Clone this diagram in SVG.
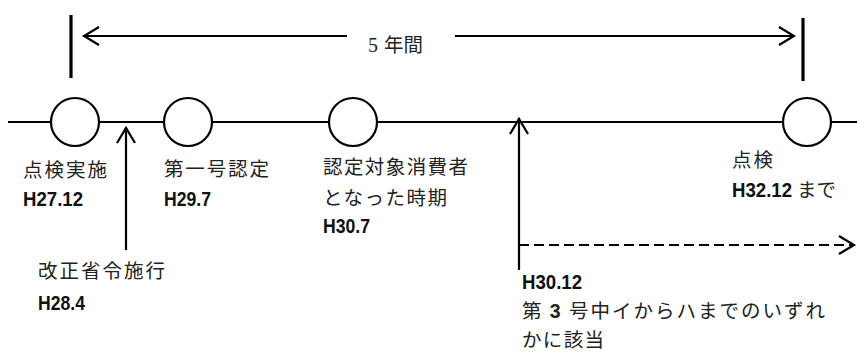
<svg xmlns="http://www.w3.org/2000/svg" width="857" height="354" viewBox="0 0 857 354">
<defs>
<marker id="ah" markerUnits="userSpaceOnUse" markerWidth="24" markerHeight="24" viewBox="-20 -12 24 24" refX="0" refY="0" orient="auto">
<path d="M-15,-9 L0,0 L-15,9" fill="none" stroke="#000" stroke-width="2.2"/>
</marker>
<style>
.ln{stroke:#000;stroke-width:2.2;fill:none}
.tick{stroke:#000;stroke-width:3.2;fill:none}
.node{fill:#fff;stroke:#000;stroke-width:2.2}
.jp{font-family:"Noto Sans CJK JP","Liberation Sans",sans-serif;font-size:19.5px;fill:#222}
.en{font-family:"Liberation Sans",Arial,sans-serif;font-size:19.5px;font-weight:bold;fill:#111}
</style>
</defs>
<rect width="857" height="354" fill="#fff"/>
<g id="connectors">
<line class="ln" x1="8" y1="122" x2="857" y2="122"/>
<line class="tick" x1="71" y1="15" x2="71" y2="78"/>
<line class="tick" x1="803" y1="18" x2="803" y2="81"/>
<line class="ln" x1="347" y1="36" x2="84" y2="36" marker-end="url(#ah)"/>
<line class="ln" x1="455" y1="36" x2="794" y2="36" marker-end="url(#ah)"/>
<line class="ln" x1="126" y1="250" x2="126" y2="128" marker-end="url(#ah)"/>
<line class="ln" x1="519" y1="270" x2="519" y2="119" marker-end="url(#ah)"/>
<line class="ln" x1="519" y1="245" x2="854" y2="245" stroke-width="3.2" stroke-dasharray="10 5" marker-end="url(#ah)"/>
</g>
<g id="label-5nen">
<text x="368" y="52" font-family="'Liberation Serif',serif" font-size="20" fill="#222">5</text>
<text x="384" y="52" class="jp" font-size="19">年間</text>
</g>
<g id="node-h2712">
<circle class="node" cx="75" cy="122" r="24"/>
<text x="23" y="177" class="jp" textLength="84" lengthAdjust="spacing">点検実施</text>
<text x="23" y="206" class="en" textLength="60" lengthAdjust="spacingAndGlyphs">H27.12</text>
</g>
<g id="node-h284">
<text x="38" y="278" class="jp" textLength="127" lengthAdjust="spacing">改正省令施行</text>
<text x="38" y="310" class="en" textLength="47" lengthAdjust="spacingAndGlyphs">H28.4</text>
</g>
<g id="node-h297">
<circle class="node" cx="188" cy="122" r="24"/>
<text x="164" y="176" class="jp" textLength="105" lengthAdjust="spacing">第一号認定</text>
<text x="164" y="206" class="en" textLength="47" lengthAdjust="spacingAndGlyphs">H29.7</text>
</g>
<g id="node-h307">
<circle class="node" cx="353" cy="122" r="24"/>
<text x="323" y="174" class="jp" textLength="145" lengthAdjust="spacing">認定対象消費者</text>
<text x="323" y="205" class="jp" textLength="124" lengthAdjust="spacing">となった時期</text>
<text x="323" y="233" class="en" textLength="47" lengthAdjust="spacingAndGlyphs">H30.7</text>
</g>
<g id="node-h3012">
<text x="522" y="289" class="en" textLength="60" lengthAdjust="spacingAndGlyphs">H30.12</text>
<text x="522" y="318" class="jp" font-size="19" textLength="303" lengthAdjust="spacing">第 <tspan font-family="'Liberation Sans',sans-serif" font-weight="bold">3</tspan> 号中イからハまでのいずれ</text>
<text x="522" y="347" class="jp" font-size="19" textLength="82" lengthAdjust="spacing">かに該当</text>
</g>
<g id="node-h3212">
<circle class="node" cx="807" cy="122" r="24"/>
<text x="732" y="167" class="jp" textLength="41" lengthAdjust="spacing">点検</text>
<text x="732" y="197" class="en" textLength="60" lengthAdjust="spacingAndGlyphs">H32.12</text>
<text x="797" y="197" class="jp">まで</text>
</g>
</svg>
